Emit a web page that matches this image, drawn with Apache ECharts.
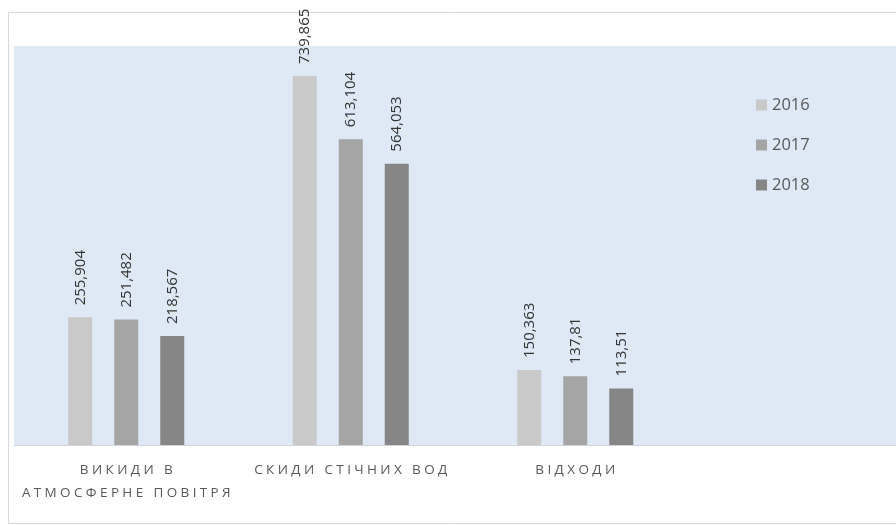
<!DOCTYPE html>
<html>
<head>
<meta charset="utf-8">
<script src="https://cdn.jsdelivr.net/npm/echarts@6/dist/echarts.min.js"></script>
<style>
  html, body { margin: 0; padding: 0; background: #ffffff; }
  #chart { width: 896px; height: 525px; }
</style>
</head>
<body>
<div id="chart"></div>
<script>
// Категорії впливу на довкілля
const categories = ['ВИКИДИ В\nАТМОСФЕРНЕ ПОВІТРЯ', 'СКИДИ СТІЧНИХ ВОД', 'ВІДХОДИ'];
const years = ['2016', '2017', '2018'];
const values2016 = [255.904, 739.865, 150.363];
const values2017 = [251.482, 613.104, 137.81];
const values2018 = [218.567, 564.053, 113.51];
const barColors = ['#c9c9c9', '#a5a5a5', '#868686'];

const FONT = '"Open Sans", "Noto Sans", sans-serif';
const SP = '\u2005';

// widen letters of axis captions
function spaced(s) {
  return s.split('\n').map(line => Array.from(line).join(SP)).join('\n');
}

function fmtNum(v) {
  return String(v).replace('.', ',');
}

const seriesData = [values2016, values2017, values2018];

const chart = echarts.init(document.getElementById('chart'), null, { renderer: 'canvas' });

chart.setOption({
  backgroundColor: '#ffffff',
  animation: false,
  graphic: [{
    type: 'rect',
    shape: { x: 8.5, y: 12.5, width: 1000, height: 511 },
    style: { fill: 'none', stroke: '#d9d9d9', lineWidth: 1 },
    silent: true,
    z: -10
  }],
  grid: {
    left: 14, top: 46, width: 898, height: 399,
    outerBoundsMode: 'none',
    containLabel: false,
    show: true, backgroundColor: '#dee9f5', borderWidth: 0
  },
  legend: {
    orient: 'vertical',
    left: 751, top: 91,
    padding: 5,
    itemWidth: 11, itemHeight: 11, itemGap: 22,
    icon: 'rect',
    textStyle: { fontFamily: FONT, fontSize: 16.5, color: '#595959', lineHeight: 18 },
    data: years
  },
  xAxis: {
    type: 'category',
    data: categories,
    max: 3,
    axisTick: { show: false },
    axisLine: { lineStyle: { color: '#d0d4da', width: 1 } },
    axisLabel: {
      interval: 0,
      margin: 14,
      fontFamily: FONT,
      fontSize: 13.5,
      color: '#595959',
      lineHeight: 23,
      formatter: function (value, idx) {
        if (value === undefined || value === null || idx >= categories.length) return '';
        return spaced(value);
      }
    }
  },
  yAxis: {
    type: 'value',
    min: 0, max: 800,
    show: false,
    splitLine: { show: false }
  },
  series: years.map((y, i) => ({
    name: y,
    type: 'bar',
    data: seriesData[i],
    barWidth: 24,
    barGap: '91.7%',
    itemStyle: { color: barColors[i] },
    label: {
      show: true,
      position: 'top',
      rotate: 90,
      align: 'left',
      verticalAlign: 'middle',
      distance: 12,
      fontFamily: FONT,
      fontSize: 15,
      color: '#333333',
      formatter: p => fmtNum(p.value)
    }
  }))
});
</script>
</body>
</html>
